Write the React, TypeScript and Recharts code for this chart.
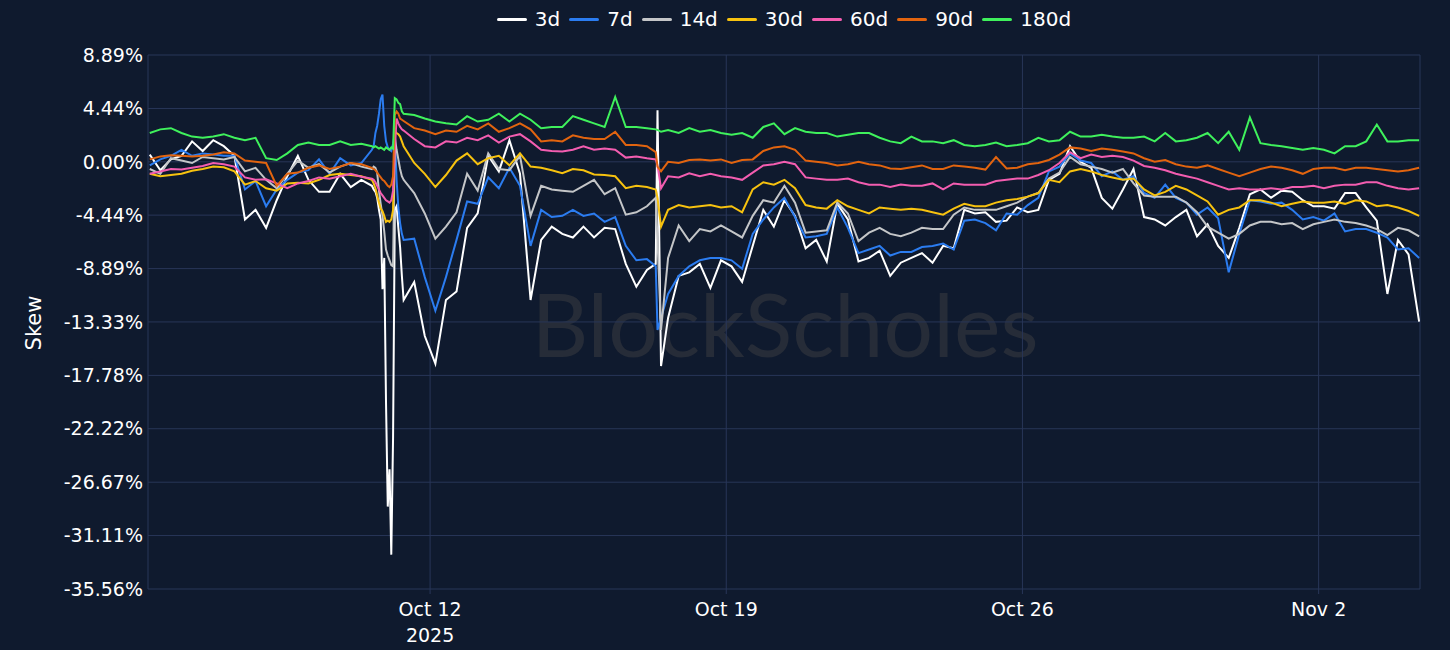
import React from "react";
import { CartesianGrid, Line, LineChart, XAxis, YAxis } from "recharts";

// hours since Oct 12 2025 00:00
const hours = [
  -159, -153, -147, -141, -135, -129, -123, -117, -111, -105, -99, -93, -87, -81, -75, -69, -63, -57, -51, -45, -39,
  -33, -32, -31, -30, -29, -28, -27, -26, -25, -24, -23, -22, -21, -20, -19, -18, -17, -16, -15,
  -9, -3, 3, 9, 15, 21, 27, 33, 39, 45, 51, 57, 63, 69, 75, 81, 87, 93, 99, 105, 111, 117, 123,
  128, 129, 131,
  135, 141, 147, 153, 159, 165, 171, 177, 183, 189, 195,
  201, 207, 213, 219, 225, 231, 237, 243, 249, 255, 261, 267, 273, 279, 285, 291, 297, 303, 309, 315,
  321, 327, 333, 339, 345, 351, 357, 363, 369, 375, 381, 387, 393, 399, 405, 411, 417, 423, 429, 435,
  441, 447, 453, 459, 465, 471, 477, 483, 489, 495, 501, 507, 513, 519, 525, 531, 537, 543, 549, 555, 561,
];

const skew3d = [
  0.6, -0.7, 0.2, 0.5, 1.7, 0.9, 1.8, 1.3, 0.5, -4.8, -4.0, -5.5, -3.2, -1.2, 0.5, -1.5, -2.5, -2.5, -1.0, -2.1, -1.5,
  -2.0, -2.3, -2.5, -3.0, -4.0, -4.8, -10.6, -8.0, -20.0, -28.7, -25.6, -32.7, -23.0, -4.0, -3.7, -5.5, -7.1, -9.5, -11.5,
  -10.0, -14.5, -16.8, -11.5, -10.8, -5.5, -4.3, 0.5, -0.8, 1.8, -1.0, -11.5, -6.5, -5.4, -6.0, -6.3, -5.4, -6.3, -5.5, -5.6, -8.5, -10.4, -9.0,
  -8.5, 4.3, -17.0,
  -13.0, -9.5, -9.2, -8.5, -10.5, -8.2, -8.7, -10.0, -7.0, -4.0, -5.4,
  -3.2, -4.5, -7.2, -6.5, -8.3, -3.5, -4.8, -8.3, -8.0, -7.4, -9.5, -8.4, -8.0, -7.6, -8.4, -7.0, -7.2, -4.0, -4.3, -4.2,
  -5.0, -4.9, -3.8, -4.2, -4.0, -1.5, -1.0, 1.3, 0.0, -0.5, -3.0, -3.9, -2.3, -0.6, -4.6, -4.8, -5.3, -4.6, -4.0, -6.2,
  -5.2, -7.0, -8.0, -5.5, -2.7, -2.3, -3.0, -2.4, -2.5, -3.2, -3.7, -3.7, -3.9, -2.6, -2.6, -3.8, -4.9, -11.0, -6.5, -7.7, -13.3,
];

const skew7d = [
  -0.3, 0.2, 0.5, 1.0, 0.5, 0.7, 0.6, 0.5, 0.5, -2.3, -1.6, -3.7, -2.3, -1.5, -0.9, -0.7, 0.2, -1.0, 0.3, -0.3, -0.1,
  1.0, 1.3, 2.4, 3.0, 4.0, 5.2, 5.6, 3.0, 1.7, 1.2, 1.0, 0.9, 1.5, 2.3, -1.5, -3.8, -5.1, -6.0, -6.5,
  -6.4, -9.6, -12.4, -9.6, -6.5, -3.3, -3.5, -1.3, -2.2, -0.5, -2.0, -7.0, -4.0, -4.6, -4.5, -4.0, -4.5, -4.3, -5.0, -4.6, -7.0, -8.2, -8.1,
  -8.7, -14.0, -13.0,
  -11.0, -9.5, -8.7, -8.2, -8.0, -8.0, -8.2, -8.9, -6.0, -4.8, -3.8,
  -3.0, -4.6, -6.3, -6.2, -6.0, -3.8, -5.5, -7.6, -7.3, -7.0, -7.8, -7.5, -7.5, -7.1, -7.0, -6.8, -7.3, -4.9, -4.8, -5.1,
  -5.7, -4.3, -4.4, -3.6, -3.0, -0.8, -0.4, 0.7, 0.1, -0.1, -1.2, -0.8, -1.5, -1.2, -2.6, -3.0, -1.9, -3.0, -3.4, -4.4,
  -3.8, -4.7, -9.2, -6.0, -3.2, -3.3, -3.5, -3.4, -4.0, -4.8, -4.6, -4.9, -4.3, -5.8, -5.6, -5.6, -5.9, -6.3, -7.3, -7.2, -8.0,
];

const skew14d = [
  -0.6, -1.0, 0.3, 0.1, -0.1, 0.4, 0.3, 0.2, 0.4, -0.8, -0.5, -1.5, -2.2, -1.0, 0.1, -0.5, -0.2, -0.9, -0.4, -0.1, -0.4,
  -0.6, -0.4, -0.5, -0.9, -2.4, -3.5, -4.5, -5.8, -7.3, -7.8, -8.2, -8.6, -8.7, 2.1, 1.0, 0.2, -0.6, -1.2, -1.5,
  -2.6, -4.3, -6.4, -5.4, -4.2, -1.0, -2.4, 0.7, -0.6, -0.7, 0.5, -4.5, -2.0, -2.3, -2.4, -2.5, -2.0, -1.5, -2.7, -2.2, -4.4, -4.2, -3.7,
  -3.0, -6.5, -14.0,
  -8.0, -5.3, -6.6, -5.6, -5.8, -5.3, -5.8, -6.3, -4.5, -3.2, -3.4,
  -2.0, -3.4, -5.9, -5.8, -5.7, -3.4, -4.3, -6.6, -5.9, -5.5, -6.0, -6.2, -5.9, -5.5, -5.6, -5.6, -4.4, -3.8, -4.0, -4.0,
  -4.0, -3.7, -3.4, -2.9, -2.6, -1.4, -0.9, 0.4, -0.2, -0.4, -0.6, -0.9, -0.6, -1.8, -2.8, -2.9, -2.9, -2.9, -3.4, -4.2,
  -5.4, -5.9, -6.4, -6.0, -5.3, -5.0, -5.0, -5.2, -5.1, -5.6, -5.2, -5.0, -4.8, -5.0, -5.1, -5.3, -5.6, -6.1, -5.5, -5.7, -6.2,
];

const skew30d = [
  -1.0, -1.2, -1.1, -1.0, -0.75, -0.6, -0.4, -0.45, -0.8, -1.9, -1.6, -2.2, -2.4, -1.8, -1.75, -1.8, -1.5, -1.1, -1.0, -1.1, -1.2,
  -1.5, -1.8, -2.2, -2.8, -3.4, -3.9, -4.1, -4.5, -5.0, -4.9, -5.0, -4.8, -4.0, 2.6, 2.4, 2.3, 2.1, 1.7, 1.3,
  -0.1, -1.0, -2.1, -1.1, 0.1, 0.7, -0.2, 0.3, 0.5, -0.3, 0.7, -0.4, -0.5, -0.7, -0.95, -0.6, -0.7, -1.05, -1.1, -1.2, -2.2, -2.0, -2.1,
  -2.3, -3.0, -5.4,
  -4.0, -3.6, -3.8, -3.7, -3.6, -3.8, -3.7, -4.2, -2.3, -1.7, -1.9,
  -1.5, -2.2, -3.6, -3.8, -3.9, -3.2, -3.7, -4.0, -4.3, -3.8, -3.9, -4.0, -3.9, -4.0, -4.2, -4.4, -3.9, -3.5, -3.7, -3.7,
  -3.4, -3.2, -3.1, -2.9, -2.6, -1.5, -1.7, -0.8, -0.6, -0.8, -1.1, -1.3, -1.5, -1.4, -2.3, -2.8, -2.5, -2.0, -2.3, -2.8,
  -3.3, -4.4, -4.0, -3.8, -3.2, -3.2, -3.4, -3.7, -3.5, -3.3, -3.4, -3.4, -3.3, -3.5, -3.2, -3.3, -3.7, -3.6, -3.8, -4.1, -4.5,
];

const skew60d = [
  -1.0, -0.8, -0.6, -0.65, -0.5, -0.35, -0.1, -0.2, -0.4, -1.3, -1.5, -1.45, -1.8, -2.2, -1.8, -1.6, -1.3, -1.4, -1.2, -1.0, -1.25,
  -1.4, -1.5, -1.7, -2.0, -2.3, -2.6, -2.8, -3.0, -3.2, -3.3, -3.4, -3.2, -2.4, 1.0, 3.6, 3.2, 2.9, 2.7, 2.6,
  1.9, 1.3, 1.2, 1.7, 1.6, 2.0, 1.8, 2.2, 1.6, 2.1, 2.3, 1.7, 1.0, 0.9, 0.85, 1.0, 1.3, 1.0, 1.1, 1.0, 0.35, 0.45, 0.3,
  0.2, -0.3, -2.2,
  -1.2, -1.3, -0.95, -1.2, -1.0, -1.2, -1.3, -1.5, -0.9, -0.3, -0.2,
  0.0, -0.2, -1.3, -1.4, -1.5, -1.5, -1.4, -1.7, -1.9, -1.9, -2.1, -1.9, -2.0, -2.0, -1.8, -2.3, -1.8, -1.9, -1.9, -1.9,
  -1.6, -1.5, -1.4, -1.4, -1.1, -0.7, -0.1, 0.8, 0.3, 0.6, 0.4, 0.5, 0.4, 0.1, -0.35, -0.5, -0.7, -1.0, -1.2, -1.4,
  -1.7, -2.0, -2.3, -2.2, -2.3, -2.3, -2.2, -2.3, -2.1, -2.1, -2.0, -2.2, -2.0, -1.9, -1.9, -1.7, -1.7, -2.0, -2.2, -2.3, -2.2,
];

const skew90d = [
  0.2, 0.45, 0.55, 0.5, 0.45, 0.5, 0.6, 0.8, 0.7, 0.1, 0.0, -0.1, -2.0, -1.0, -0.9, -0.5, -0.3, -0.6, -0.4, -0.1, -0.2,
  -0.5, -0.6, -0.7, -0.9, -1.1, -1.3, -1.5, -1.6, -1.8, -2.0, -2.1, -1.9, -1.2, 3.9, 4.2, 4.0, 3.6, 3.5, 3.4,
  2.8, 2.6, 2.3, 2.6, 2.5, 3.0, 2.7, 3.2, 2.5, 2.8, 3.2, 2.7, 1.7, 1.8, 1.7, 2.2, 2.0, 1.9, 1.9, 2.5, 1.4, 1.4, 1.3,
  0.8, -0.4, -0.8,
  0.0, -0.1, 0.15, 0.2, 0.1, 0.2, -0.1, 0.15, 0.2, 0.9, 1.2,
  1.3, 1.0, 0.1, 0.0, -0.1, -0.3, -0.2, 0.0, -0.2, -0.3, -0.55, -0.6, -0.45, -0.3, -0.6, -0.6, -0.3, -0.4, -0.5, -0.65,
  0.4, -0.55, -0.5, -0.2, -0.1, 0.15, 0.6, 1.2, 1.1, 0.9, 1.1, 1.0, 0.85, 0.7, 0.3, 0.0, 0.15, -0.2, -0.4, -0.5,
  -0.3, -0.6, -0.9, -1.2, -0.9, -0.6, -0.4, -0.5, -0.7, -1.0, -0.6, -0.5, -0.5, -0.7, -0.5, -0.5, -0.6, -0.7, -0.8, -0.7, -0.5,
];

const skew180d = [
  2.4, 2.7, 2.8, 2.4, 2.1, 2.0, 2.1, 2.3, 2.0, 1.8, 2.0, 0.3, 0.15, 0.7, 1.4, 1.6, 1.4, 1.4, 1.7, 1.4, 1.5,
  1.3, 1.2, 1.3, 1.2, 1.1, 1.2, 1.1, 1.0, 1.2, 1.1, 1.0, 1.2, 1.1, 5.3, 5.2, 4.9, 4.8, 4.2, 4.0,
  3.9, 3.6, 3.35, 3.2, 3.1, 3.8, 3.35, 3.5, 4.0, 3.35, 4.0, 3.5, 2.8, 2.9, 2.9, 3.8, 3.5, 3.2, 2.9, 5.4, 2.9, 2.9, 2.8,
  2.7, 2.65, 2.5,
  2.65, 2.4, 2.8, 2.5, 2.65, 2.4, 2.25, 2.4, 2.0, 2.9, 3.2,
  2.3, 2.8, 2.5, 2.4, 2.4, 2.1, 2.25, 2.4, 2.4, 2.0, 1.7, 1.55, 2.1, 1.7, 1.7, 1.55, 1.8, 1.4, 1.3, 1.4,
  1.6, 1.3, 1.4, 1.55, 2.0, 1.7, 1.8, 2.5, 2.1, 2.1, 2.25, 2.1, 2.0, 2.0, 2.1, 1.7, 2.4, 1.7, 1.8, 2.0,
  2.4, 1.55, 2.5, 1.0, 3.7, 1.55, 1.4, 1.3, 1.15, 1.0, 1.15, 1.0, 0.7, 1.3, 1.3, 1.7, 3.1, 1.7, 1.7, 1.8, 1.8,
];

const series = [
  { key: "3d", values: skew3d, color: "#ffffff" },
  { key: "7d", values: skew7d, color: "#2b7cf0" },
  { key: "14d", values: skew14d, color: "#c4c6c8" },
  { key: "30d", values: skew30d, color: "#f7c20f" },
  { key: "60d", values: skew60d, color: "#f35db0" },
  { key: "90d", values: skew90d, color: "#e2640f" },
  { key: "180d", values: skew180d, color: "#3ff15c" },
];

const xTicks = [0, 168, 336, 504];
const xTickLabels = ["Oct 12", "Oct 19", "Oct 26", "Nov 2"];
const yTicks = [-35.56, -31.11, -26.67, -22.22, -17.78, -13.33, -8.89, -4.44, 0, 4.44, 8.89];

const BG = "#0f1a2e";
const GRID = "#283658";
const FONT = "'DejaVu Sans', Verdana, sans-serif";

const rows = hours.map((h, i) => {
  const row: Record<string, number> = { h };
  series.forEach((s) => {
    row[s.key] = s.values[i];
  });
  return row;
});

function DateTick(props: any) {
  const { x, y, payload } = props;
  const idx = xTicks.indexOf(payload.value);
  return (
    <g>
      <text x={x} y={y + 20} textAnchor="middle" fill="#ffffff" fontSize={19}>
        {xTickLabels[idx]}
      </text>
      {idx === 0 && (
        <text x={x} y={y + 46} textAnchor="middle" fill="#ffffff" fontSize={19}>
          2025
        </text>
      )}
    </g>
  );
}

export default function App() {
  return (
    <div
      style={{
        position: "fixed",
        left: 0,
        top: 0,
        width: 1450,
        height: 650,
        background: BG,
        fontFamily: FONT,
        overflow: "hidden",
      }}
    >
      {/* watermark */}
      <svg width={1450} height={650} style={{ position: "absolute", left: 0, top: 0 }}>
        <text
          x={785}
          y={357}
          textAnchor="middle"
          fill="#262c38"
          fontSize={88}
          fontFamily="Lato, 'Open Sans', sans-serif"
          textLength={507}
          lengthAdjust="spacingAndGlyphs"
        >
          BlockScholes
        </text>
      </svg>

      {/* legend */}
      <div
        style={{
          position: "absolute",
          left: 148,
          width: 1272,
          top: 6,
          display: "flex",
          justifyContent: "center",
          alignItems: "center",
          color: "#ffffff",
          fontSize: 20,
          lineHeight: "26px",
        }}
      >
        {series.map((s, i) => (
          <div
            key={s.key}
            style={{ display: "flex", alignItems: "center", marginRight: i === series.length - 1 ? 0 : 9 }}
          >
            <span
              style={{
                display: "inline-block",
                width: 30,
                height: 3,
                borderRadius: 2,
                background: s.color,
                marginRight: 8,
              }}
            />
            <span>{s.key}</span>
          </div>
        ))}
      </div>

      {/* y title */}
      <div
        style={{
          position: "absolute",
          left: 34,
          top: 323,
          transform: "translate(-50%, -50%) rotate(-90deg)",
          color: "#ffffff",
          fontSize: 21,
          whiteSpace: "nowrap",
        }}
      >
        Skew
      </div>

      <div style={{ position: "absolute", left: 0, top: 0 }}>
        <LineChart width={1450} height={650} data={rows} margin={{ top: 55, right: 30, bottom: 1, left: 0 }}>
          <CartesianGrid stroke={GRID} strokeWidth={1} />
          <XAxis
            dataKey="h"
            type="number"
            domain={[-160, 561.5]}
            ticks={xTicks}
            height={60}
            axisLine={false}
            tickLine={{ stroke: GRID }}
            tickSize={5}
            tick={<DateTick />}
            interval={0}
          />
          <YAxis
            type="number"
            domain={[-35.56, 8.89]}
            ticks={yTicks}
            width={148}
            axisLine={false}
            tickLine={false}
            tickSize={3}
            tickMargin={2}
            interval={0}
            tick={{ fill: "#ffffff", fontSize: 19 }}
            tickFormatter={(v: number) => `${v.toFixed(2)}%`}
          />
          {series.map((s) => (
            <Line
              key={s.key}
              type="linear"
              dataKey={s.key}
              stroke={s.color}
              strokeWidth={2}
              dot={false}
              isAnimationActive={false}
            />
          ))}
        </LineChart>
      </div>
    </div>
  );
}
